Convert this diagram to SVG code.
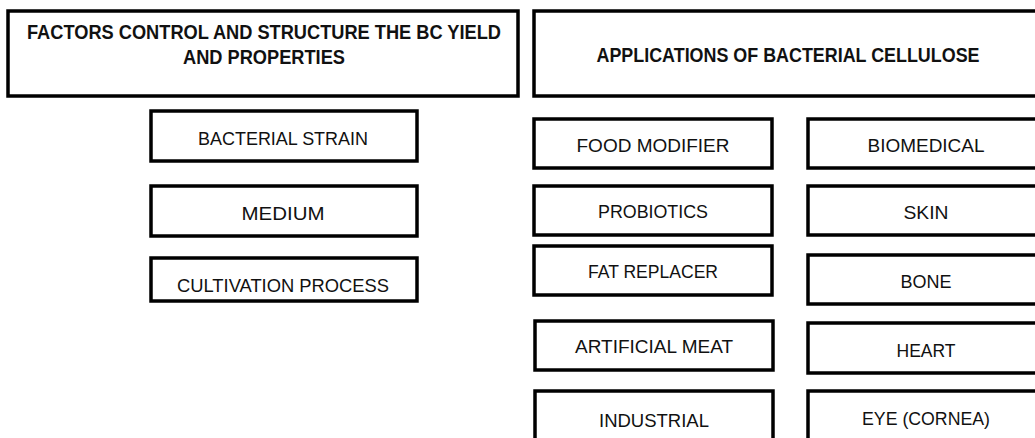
<svg xmlns="http://www.w3.org/2000/svg" width="1035" height="438" viewBox="0 0 1035 438">
<style>
rect{fill:#fff;stroke:#000;stroke-width:3.5}
text{font-family:"Liberation Sans",Arial,sans-serif;fill:#111;text-anchor:middle}
.h{font-size:20px;font-weight:bold}
.n{font-size:18px}
</style>
<rect x="0" y="0" width="1035" height="438" style="stroke:none"/>
<g id="header-factors"><rect x="8" y="11" width="510" height="85"/>
<text class="h" x="264" y="39" textLength="474" lengthAdjust="spacingAndGlyphs">FACTORS CONTROL AND STRUCTURE THE BC YIELD</text>
<text class="h" x="264" y="64" textLength="162" lengthAdjust="spacingAndGlyphs">AND PROPERTIES</text></g>
<g id="header-applications"><rect x="534" y="11" width="520" height="85"/>
<text class="h" x="788" y="62" textLength="383" lengthAdjust="spacingAndGlyphs">APPLICATIONS OF BACTERIAL CELLULOSE</text></g>
<g id="bacterial-strain"><rect x="151" y="111" width="266" height="50"/>
<text class="n" x="283" y="145" textLength="170" lengthAdjust="spacingAndGlyphs">BACTERIAL STRAIN</text></g>
<g id="medium"><rect x="151" y="186" width="266" height="50"/>
<text class="n" x="283" y="220" textLength="83" lengthAdjust="spacingAndGlyphs">MEDIUM</text></g>
<g id="cultivation-process"><rect x="151" y="258" width="266" height="43"/>
<text class="n" x="283" y="292" textLength="212" lengthAdjust="spacingAndGlyphs">CULTIVATION PROCESS</text></g>
<g id="food-modifier"><rect x="534" y="119" width="238" height="49"/>
<text class="n" x="653" y="152" textLength="153" lengthAdjust="spacingAndGlyphs">FOOD MODIFIER</text></g>
<g id="probiotics"><rect x="534" y="186" width="238" height="49"/>
<text class="n" x="653" y="218" textLength="110" lengthAdjust="spacingAndGlyphs">PROBIOTICS</text></g>
<g id="fat-replacer"><rect x="534" y="246" width="238" height="49"/>
<text class="n" x="653" y="278" textLength="130" lengthAdjust="spacingAndGlyphs">FAT REPLACER</text></g>
<g id="artificial-meat"><rect x="535" y="321" width="238" height="49"/>
<text class="n" x="654" y="353" textLength="158" lengthAdjust="spacingAndGlyphs">ARTIFICIAL MEAT</text></g>
<g id="industrial"><rect x="535" y="391" width="238" height="60"/>
<text class="n" x="654" y="427" textLength="110" lengthAdjust="spacingAndGlyphs">INDUSTRIAL</text></g>
<g id="biomedical"><rect x="808" y="119" width="240" height="49"/>
<text class="n" x="926" y="152" textLength="117" lengthAdjust="spacingAndGlyphs">BIOMEDICAL</text></g>
<g id="skin"><rect x="808" y="186" width="240" height="49"/>
<text class="n" x="926" y="219" textLength="45" lengthAdjust="spacingAndGlyphs">SKIN</text></g>
<g id="bone"><rect x="808" y="255" width="240" height="49"/>
<text class="n" x="926" y="288" textLength="51" lengthAdjust="spacingAndGlyphs">BONE</text></g>
<g id="heart"><rect x="808" y="323" width="240" height="50"/>
<text class="n" x="926" y="357" textLength="59" lengthAdjust="spacingAndGlyphs">HEART</text></g>
<g id="eye-cornea"><rect x="808" y="391" width="240" height="60"/>
<text class="n" x="926" y="425" textLength="128" lengthAdjust="spacingAndGlyphs">EYE (CORNEA)</text></g>
<g id="connectors"></g>
</svg>
